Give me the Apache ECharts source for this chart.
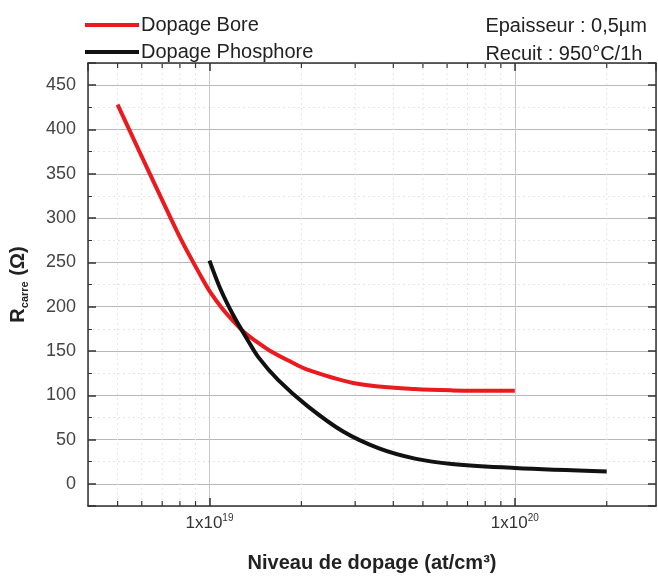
<!DOCTYPE html>
<html>
<head>
<meta charset="utf-8">
<script src="https://cdn.jsdelivr.net/npm/echarts@6/dist/echarts.min.js"></script>
<style>html,body{margin:0;padding:0;background:#fff}#c{width:658px;height:578px}</style>
</head>
<body>
<div id="c"></div>
<script>
// Data
const boreX = [5.0e18, 5.86e18, 6.92e18, 8.09e18, 9.42e18, 1.007e19, 1.094e19, 1.172e19, 1.291e19, 1.445e19, 1.582e19, 1.84e19, 2.09e19, 3.05e19, 4.71e19, 6.22e19, 1.0e20];
const boreY = [428, 377, 324, 275, 233, 216, 199, 187, 172, 159, 150, 138, 129, 113, 107, 105.5, 105];
const phosX = [1.0e19, 1.086e19, 1.198e19, 1.33e19, 1.445e19, 1.68e19, 2.09e19, 2.74e19, 3.59e19, 4.71e19, 6.22e19, 1.0e20, 2.0e20];
const phosY = [252, 220, 190, 163, 143, 117, 88, 59, 40, 28.5, 22.5, 18, 14];
const minorTicksX = [5e18, 6e18, 7e18, 8e18, 9e18, 2e19, 3e19, 4e19, 5e19, 6e19, 7e19, 8e19, 9e19, 2e20];
const xMin = 4e18, xMax = 2.9e20;
const yMin = -25, yMax = 475;
const seriesNames = ['Dopage Bore', 'Dopage Phosphore'];
const noteLines = ['Epaisseur : 0,5µm', 'Recuit : 950°C/1h'];

const FONT = 'Liberation Sans, Arial, sans-serif';
const chart = echarts.init(document.getElementById('c'));
const zip = (xs, ys) => xs.map((x, i) => [x, ys[i]]);

const axisLineStyle = { color: '#333', width: 1.5 };
const tickStyle = { color: '#333', width: 1.5 };

chart.setOption({
  animation: false,
  textStyle: { fontFamily: FONT },
  grid: { left: 86, right: 2, top: 63, bottom: 71, containLabel: false },
  title: {
    text: noteLines.join('\n'), right: 6, top: 7,
    textStyle: { fontSize: 20, fontWeight: 'normal', color: '#222', lineHeight: 28, fontFamily: FONT }
  },
  legend: {
    data: seriesNames, orient: 'vertical', left: 80, top: 10, itemGap: 7,
    icon: 'rect', itemWidth: 54, itemHeight: 4,
    textStyle: { fontSize: 20, color: '#222', fontFamily: FONT, padding: [0, 0, 0, -3] }
  },
  xAxis: [{
    type: 'log', logBase: 10, min: xMin, max: xMax,
    name: 'Niveau de dopage (at/cm³)', nameLocation: 'middle', nameGap: 47,
    nameTextStyle: { fontSize: 20, fontWeight: 'bold', color: '#222', fontFamily: FONT },
    axisLine: { show: true, onZero: false, lineStyle: axisLineStyle },
    axisTick: { show: true, inside: true, length: 8, lineStyle: tickStyle },
    axisLabel: {
      showMinLabel: false, showMaxLabel: false, margin: 7, color: '#333',
      formatter: v => '{b|1x10}{s|' + Math.round(Math.log10(v)) + '}',
      rich: { b: { fontSize: 17, lineHeight: 20, color: '#333', fontFamily: FONT }, s: { fontSize: 10, lineHeight: 10, verticalAlign: 'top', color: '#333', fontFamily: FONT } }
    },
    splitLine: { show: true, lineStyle: { color: '#c8c8c8', width: 1 } }
  }, {
    type: 'log', logBase: 10, min: xMin, max: xMax, position: 'top',
    axisLine: { show: true, onZero: false, lineStyle: axisLineStyle },
    axisTick: { show: true, inside: true, length: 8, lineStyle: tickStyle },
    axisLabel: { show: false }, splitLine: { show: false }
  }],
  yAxis: [{
    type: 'value', min: yMin, max: yMax, splitNumber: 10,
    name: '{r|R}{s|carre}{r| (Ω)}', nameLocation: 'middle', nameGap: 58, nameRotate: 90,
    nameTextStyle: { rich: { r: { fontSize: 20, fontWeight: 'bold', color: '#222', fontFamily: FONT, lineHeight: 24 }, s: { fontSize: 11, fontWeight: 'bold', color: '#222', verticalAlign: 'bottom', lineHeight: 14, fontFamily: FONT } } },
    axisLine: { show: true, onZero: false, lineStyle: axisLineStyle },
    axisTick: { show: true, inside: true, length: 8, lineStyle: tickStyle },
    minorTick: { show: true, splitNumber: 2, length: 4, lineStyle: { color: '#333', width: 1 } },
    minorSplitLine: { show: true, lineStyle: { color: '#e6e6e6', type: [2, 3], width: 1 } },
    axisLabel: { fontSize: 18, color: '#444', margin: 12, showMinLabel: false, showMaxLabel: false },
    splitLine: { show: true, lineStyle: { color: '#b8b8b8', width: 1.2 } }
  }, {
    type: 'value', min: yMin, max: yMax, splitNumber: 10, position: 'right',
    axisLine: { show: true, onZero: false, lineStyle: axisLineStyle },
    axisTick: { show: true, inside: true, length: 8, lineStyle: tickStyle },
    minorTick: { show: true, splitNumber: 2, length: 4, lineStyle: { color: '#333', width: 1 } },
    axisLabel: { show: false }, splitLine: { show: false }
  }],
  series: [{
    type: 'custom', name: 'minor', xAxisIndex: 0, yAxisIndex: 0, silent: true, z: 1,
    data: minorTicksX.map(v => [v]), encode: { x: 0 },
    renderItem: (params, api) => {
      const cs = params.coordSys;
      const x = api.coord([api.value(0), 0])[0];
      const top = cs.y, bot = cs.y + cs.height;
      return {
        type: 'group', children: [
          { type: 'line', shape: { x1: x, y1: top, x2: x, y2: bot }, style: { stroke: '#e6e6e6', lineWidth: 1, lineDash: [2, 3] } },
          { type: 'line', shape: { x1: x, y1: bot, x2: x, y2: bot - 5 }, style: { stroke: '#333', lineWidth: 1.2 } },
          { type: 'line', shape: { x1: x, y1: top, x2: x, y2: top + 5 }, style: { stroke: '#333', lineWidth: 1.2 } }
        ]
      };
    }
  }, {
    type: 'line', name: seriesNames[0], data: zip(boreX, boreY), smooth: 0.35, showSymbol: false, symbol: 'none',
    lineStyle: { color: '#ea1a1f', width: 4 }, itemStyle: { color: '#ea1a1f' }, z: 3
  }, {
    type: 'line', name: seriesNames[1], data: zip(phosX, phosY), smooth: 0.35, showSymbol: false, symbol: 'none',
    lineStyle: { color: '#111', width: 4 }, itemStyle: { color: '#111' }, z: 4
  }]
});
</script>
</body>
</html>
